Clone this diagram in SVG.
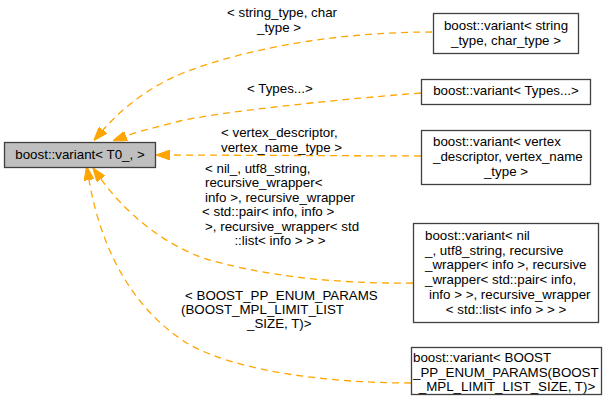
<svg xmlns="http://www.w3.org/2000/svg" width="616" height="408" viewBox="0 0 616 408">
<style>
text { font-family: "Liberation Sans", Arial, sans-serif; font-size: 13.33px; fill: #000; }
.m { text-anchor: middle; }
.node rect { fill: #fff; stroke: #404040; stroke-width: 1.3; }
.main rect { fill: #bfbfbf; }
.edge { fill: none; stroke: #ffa500; stroke-width: 1.3; stroke-dasharray: 7,5; }
</style>
<defs>
<marker id="arr" markerUnits="userSpaceOnUse" markerWidth="14" markerHeight="10" refX="0" refY="5" orient="auto" viewBox="0 0 14 10">
<path d="M0,0 L14,5 L0,10 z" fill="#ffa500" stroke="#ffa500" stroke-width="1"/>
</marker>
</defs>
<g id="connectors">
<path class="edge" marker-end="url(#arr)" d="M432,32 C352,32 258,44 183,73 C153,85 124,106 103,130"/>
<path class="edge" marker-end="url(#arr)" d="M421,93 C330,100 220,112 180,121 C160,126 140,131 126,136"/>
<path class="edge" marker-end="url(#arr)" d="M421,156 L170,155"/>
<path class="edge" marker-end="url(#arr)" d="M413,283 C330,284 260,275 203,258 C160,242 125,212 101,179"/>
<path class="edge" marker-end="url(#arr)" d="M411,383 C330,383 240,372 190,345 C140,315 103,260 89,180"/>
<g id="edge-labels">
<text x="227" y="16.5">&lt; string_type, char</text>
<text x="257" y="31.5">_type &gt;</text>
<text x="247" y="92.5">&lt; Types...&gt;</text>
<text x="221" y="137">&lt; vertex_descriptor,</text>
<text x="221" y="151.5">vertex_name_type &gt;</text>
<text x="205" y="172.5">&lt; nil_, utf8_string,</text>
<text x="205" y="187">recursive_wrapper&lt;</text>
<text x="205" y="201.5">info &gt;, recursive_wrapper</text>
<text x="202" y="216">&lt; std::pair&lt; info, info &gt;</text>
<text x="205" y="230.5">&gt;, recursive_wrapper&lt; std</text>
<text class="m" x="280" y="245">::list&lt; info &gt; &gt; &gt;</text>
<text x="185" y="299.5">&lt; BOOST_PP_ENUM_PARAMS</text>
<text x="181" y="313.5">(BOOST_MPL_LIMIT_LIST</text>
<text x="247" y="328">_SIZE, T)&gt;</text>
</g>
</g>
<g id="node-main" class="node main">
<rect x="4.5" y="142.5" width="151" height="25"/>
<text class="m" x="80" y="158.5">boost::variant&lt; T0_, &gt;</text>
</g>
<g id="node-string" class="node">
<rect x="433.5" y="13.5" width="145" height="40"/>
<text class="m" x="506" y="29.5">boost::variant&lt; string</text>
<text class="m" x="506" y="44.5">_type, char_type &gt;</text>
</g>
<g id="node-types" class="node">
<rect x="421.5" y="79.5" width="169" height="25"/>
<text class="m" x="506" y="95">boost::variant&lt; Types...&gt;</text>
</g>
<g id="node-vertex" class="node">
<rect x="421.5" y="130.5" width="169" height="54"/>
<text x="433" y="146">boost::variant&lt; vertex</text>
<text x="433" y="161">_descriptor, vertex_name</text>
<text class="m" x="506" y="175.5">_type &gt;</text>
</g>
<g id="node-nil" class="node">
<rect x="413.5" y="223.5" width="185" height="99"/>
<text x="425" y="239.5">boost::variant&lt; nil</text>
<text x="425" y="254.5">_, utf8_string, recursive</text>
<text x="425" y="269">_wrapper&lt; info &gt;, recursive</text>
<text x="425" y="283.5">_wrapper&lt; std::pair&lt; info,</text>
<text x="429" y="298.5">info &gt; &gt;, recursive_wrapper</text>
<text class="m" x="506" y="313.5">&lt; std::list&lt; info &gt; &gt; &gt;</text>
</g>
<g id="node-boost" class="node">
<rect x="411.5" y="347.5" width="190" height="47"/>
<text x="413" y="361.5">boost::variant&lt; BOOST</text>
<text x="413" y="376.5">_PP_ENUM_PARAMS(BOOST</text>
<text class="m" x="507" y="391">_MPL_LIMIT_LIST_SIZE, T)&gt;</text>
</g>
</svg>
